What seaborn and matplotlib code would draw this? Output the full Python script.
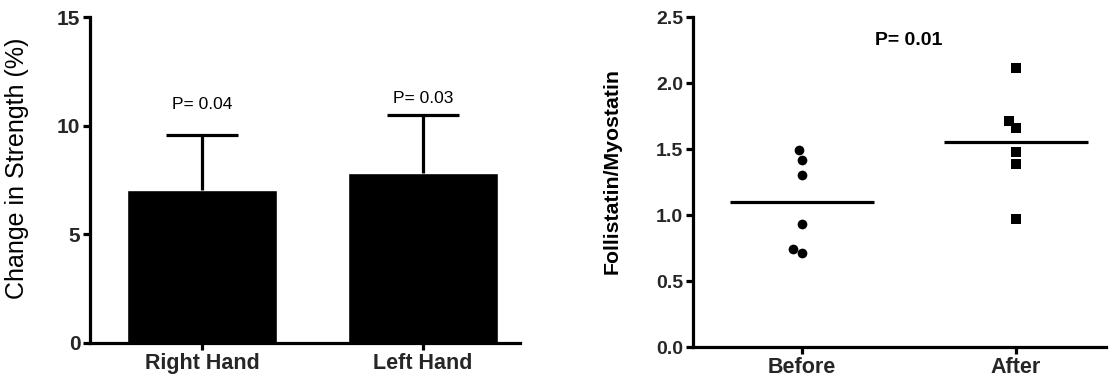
import numpy as np
import pandas as pd
import matplotlib
matplotlib.use("Agg")
import matplotlib.pyplot as plt
import seaborn as sns

# ---- data ----
hands = ["Right Hand", "Left Hand"]
strength_mean = [7.03, 7.85]
strength_sd = [2.57, 2.67]
hand_pvals = ["P= 0.04", "P= 0.03"]
hand_p_y = [11.0, 11.26]

groups = ["Before", "After"]
before_vals = [1.49, 1.42, 1.30, 0.93, 0.74, 0.71]
after_vals = [2.11, 1.71, 1.66, 1.48, 1.39, 0.97]
ratio_pval = "P= 0.01"

sns.set_theme(style="white")
plt.rcParams["font.family"] = ["Liberation Sans", "DejaVu Sans"]

fig = plt.figure(figsize=(11.09, 3.82), dpi=100)
W, H = 1109, 382

def add_ax(x0, x1, ytop, ybot):
    return fig.add_axes([x0 / W, 1 - ybot / H, (x1 - x0) / W, (ybot - ytop) / H])

LW = 2.3

def style_axes(ax):
    for s in ["top", "right"]:
        ax.spines[s].set_visible(False)
    for s in ["left", "bottom"]:
        ax.spines[s].set_linewidth(LW)
        ax.spines[s].set_color("black")
    ax.tick_params(axis="both", direction="out", length=5, width=LW, color="black",
                   left=True, bottom=True, pad=2)

# ---- left: bar chart ----
ax1 = add_ax(90, 520, 17.3, 343)
df1 = pd.DataFrame({"hand": hands, "change": strength_mean})
sns.barplot(data=df1, x="hand", y="change", order=hands, color="black",
            width=0.68, errorbar=None, ax=ax1, saturation=1)
xpos = np.arange(len(hands))
_, caps, _ = ax1.errorbar(xpos, strength_mean, yerr=[np.zeros(len(hands)), strength_sd],
                          fmt="none", ecolor="black", elinewidth=LW, capsize=26, capthick=LW)
caps[0].set_visible(False)  # hide the lower cap (inside the bar)
for i, (p, py) in enumerate(zip(hand_pvals, hand_p_y)):
    ax1.text(i, py, p, ha="center", va="center", fontsize=12.5, color="black")
ax1.set_ylim(0, 15)
ax1.set_yticks([0, 5, 10, 15])
ax1.set_xlim(-0.507, 1.439)
style_axes(ax1)
ax1.set_xlabel("")
ax1.set_ylabel("Change in Strength (%)", fontsize=18, color="black")
ax1.yaxis.set_label_coords(-0.143, 0.537)
for lab in ax1.get_yticklabels():
    lab.set_fontsize(15); lab.set_fontweight("bold")
for lab in ax1.get_xticklabels():
    lab.set_fontsize(15.5); lab.set_fontweight("bold")

# ---- right: dot plot ----
ax2 = add_ax(693, 1106, 17, 347)
df2 = pd.DataFrame({"group": ["Before"] * len(before_vals) + ["After"] * len(after_vals),
                    "ratio": before_vals + after_vals})
sns.swarmplot(data=df2[df2.group == "Before"], x="group", y="ratio", order=groups,
              color="black", marker="o", size=7, ax=ax2)
sns.swarmplot(data=df2[df2.group == "After"], x="group", y="ratio", order=groups,
              color="black", marker="s", size=7, ax=ax2)
means = df2.groupby("group")["ratio"].mean()
for i, g in enumerate(groups):
    ax2.hlines(means[g], i - 0.335, i + 0.335, color="black", linewidth=LW)
ax2.text(0.5, 2.32, ratio_pval, ha="center", va="center", fontsize=14,
         fontweight="bold", color="black")
ax2.set_ylim(0, 2.5)
ax2.set_yticks([0.0, 0.5, 1.0, 1.5, 2.0, 2.5])
ax2.set_yticklabels([f"{v:.1f}" for v in [0.0, 0.5, 1.0, 1.5, 2.0, 2.5]])
ax2.set_xlim(-0.509, 1.42)
style_axes(ax2)
ax2.set_xlabel("")
ax2.set_ylabel("Follistatin/Myostatin", fontsize=15.3, fontweight="bold", color="black")
ax2.yaxis.set_label_coords(-0.172, 0.533)
for lab in ax2.get_yticklabels():
    lab.set_fontsize(14); lab.set_fontweight("bold")
for lab in ax2.get_xticklabels():
    lab.set_fontsize(15.5); lab.set_fontweight("bold")

fig.savefig("out.png", dpi=100, facecolor="white")
